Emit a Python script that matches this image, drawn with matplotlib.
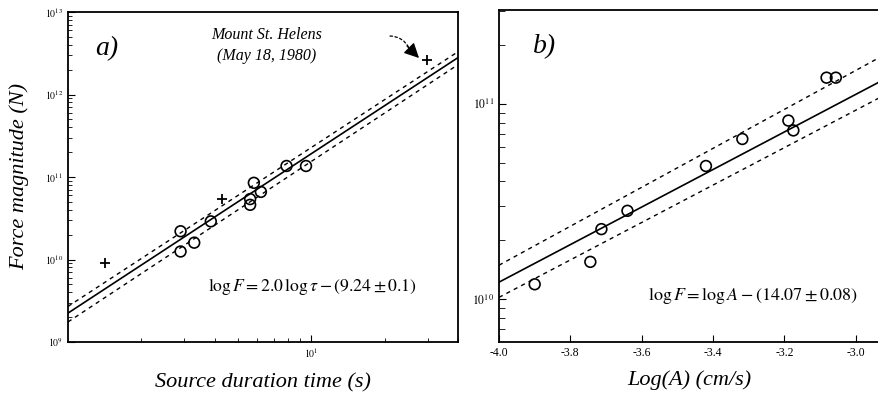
import numpy as np
import matplotlib
matplotlib.use('Agg')
import matplotlib.pyplot as plt
from matplotlib.ticker import LogLocator, NullFormatter, FixedLocator

plt.rcParams['font.family'] = ['Liberation Serif', 'DejaVu Serif']
plt.rcParams['mathtext.fontset'] = 'stix'

# Panel a: source duration vs force
a_circ_tau = [2.9, 2.9, 3.3, 3.86, 5.6, 5.6, 5.8, 6.2, 7.9, 9.5]
a_circ_F = [2.2e10, 1.25e10, 1.6e10, 2.9e10, 4.6e10, 5.4e10, 8.5e10, 6.6e10, 1.36e11, 1.36e11]
a_cross_tau = [1.42, 4.28, 29.9]
a_cross_F = [9e9, 5.4e10, 2.65e12]
a_fit_tau = [1.0, 40.0]
a_fit_F = [2.24e9, 2.8e12]
a_up_F = [2.7e9, 3.3e12]
a_lo_F = [1.75e9, 2.3e12]

# Panel b: log amplitude vs force
b_logA = [-3.90, -3.744, -3.713, -3.64, -3.42, -3.318, -3.189, -3.175, -3.082, -3.056]
b_F = [1.19e10, 1.55e10, 2.28e10, 2.83e10, 4.8e10, 6.6e10, 8.2e10, 7.3e10, 1.36e11, 1.36e11]
b_fit_A = [-4.0, -2.935]
b_fit_F = [1.22e10, 1.29e11]
b_up_F = [1.49e10, 1.72e11]
b_lo_F = [1.02e10, 1.07e11]
b_xticks = [-4.0, -3.8, -3.6, -3.4, -3.2, -3.0]
b_xlabels = ['-4.0', '-3.8', '-3.6', '-3.4', '-3.2', '-3.0']

fig = plt.figure(figsize=(8.79, 4.0), dpi=100)
ax1 = fig.add_axes([68/879, 58/400, 390/879, 330/400])
ax2 = fig.add_axes([499/879, 58/400, 380/879, 332/400])

dash = (0, (3, 3))

# ---- panel a ----
ax1.set_xscale('log')
ax1.set_yscale('log')
ax1.plot(a_fit_tau, a_fit_F, color='black', lw=1.2)
ax1.plot(a_fit_tau, a_up_F, color='black', lw=1.0, linestyle=dash)
ax1.plot(a_fit_tau, a_lo_F, color='black', lw=1.0, linestyle=dash)
ax1.scatter(a_circ_tau, a_circ_F, s=60, facecolors='none', edgecolors='black', linewidths=1.2, zorder=3)
ax1.scatter(a_cross_tau, a_cross_F, s=50, marker='+', color='black', linewidths=1.3, zorder=3)
ax1.set_xlim(1.0, 40.0)
ax1.set_ylim(1e9, 1e13)
ax1.xaxis.set_major_locator(FixedLocator([10]))
ax1.set_xticklabels([r'$10^1$'])
ax1.xaxis.set_minor_locator(LogLocator(base=10, subs=np.arange(2, 10)))
ax1.xaxis.set_minor_formatter(NullFormatter())
ax1.yaxis.set_major_locator(FixedLocator([1e9, 1e10, 1e11, 1e12, 1e13]))
ax1.set_yticklabels([r'$10^9$', r'$10^{10}$', r'$10^{11}$', r'$10^{12}$', r'$10^{13}$'])
ax1.yaxis.set_minor_locator(LogLocator(base=10, subs=np.arange(2, 10)))
ax1.yaxis.set_minor_formatter(NullFormatter())
ax1.tick_params(which='both', direction='in', labelsize=7, top=False, right=False)
ax1.tick_params(which='major', length=5)
ax1.tick_params(which='minor', length=3)
for sp in ax1.spines.values():
    sp.set_linewidth(1.3)

ax1.text(0.10, 0.89, 'a)', transform=ax1.transAxes, fontsize=20, style='italic',
         ha='center', va='center')
ax1.text(0.51, 0.93, 'Mount St. Helens', transform=ax1.transAxes, fontsize=11.5,
         style='italic', ha='center', va='center')
ax1.text(0.51, 0.866, '(May 18, 1980)', transform=ax1.transAxes, fontsize=11.5,
         style='italic', ha='center', va='center')
# dotted curve + solid head pointing at the Mount St. Helens cross
# (figure pixels, origin bottom-left)
ax1.annotate('', xy=(409, 352), xycoords='figure pixels', xytext=(390, 364),
             textcoords='figure pixels',
             arrowprops=dict(arrowstyle='-', color='black', linestyle=(0, (2, 2)), lw=0.9,
                             shrinkA=0, shrinkB=0, connectionstyle='arc3,rad=-0.3'))
ax1.annotate('', xy=(419, 342), xycoords='figure pixels', xytext=(407, 354),
             textcoords='figure pixels',
             arrowprops=dict(arrowstyle='-|>,head_length=0.9,head_width=0.45', color='black',
                             lw=0.9, shrinkA=0, shrinkB=0))
ax1.text(0.36, 0.167, r'$\log F = 2.0\,\log\tau - (9.24 \pm 0.1)$', transform=ax1.transAxes,
         fontsize=12.7, ha='left', va='center')
ax1.set_xlabel('Source duration time (s)', fontsize=16, style='italic', labelpad=9)
ax1.set_ylabel('Force magnitude (N)', fontsize=16, style='italic', labelpad=11)

# ---- panel b ----
ax2.set_yscale('log')
ax2.plot(b_fit_A, b_fit_F, color='black', lw=1.2)
ax2.plot(b_fit_A, b_up_F, color='black', lw=1.0, linestyle=dash)
ax2.plot(b_fit_A, b_lo_F, color='black', lw=1.0, linestyle=dash)
ax2.scatter(b_logA, b_F, s=60, facecolors='none', edgecolors='black', linewidths=1.2, zorder=3)
ax2.set_xlim(-4.0, -2.935)
ax2.set_ylim(10**9.78, 10**11.48)
ax2.set_xticks(b_xticks)
ax2.set_xticklabels(b_xlabels)
ax2.yaxis.set_major_locator(FixedLocator([1e10, 1e11]))
ax2.set_yticklabels([r'$10^{10}$', r'$10^{11}$'])
ax2.yaxis.set_minor_locator(LogLocator(base=10, subs=np.arange(2, 10)))
ax2.yaxis.set_minor_formatter(NullFormatter())
ax2.tick_params(which='both', direction='in', labelsize=8.5, top=False, right=False)
ax2.tick_params(which='major', length=5)
ax2.tick_params(which='minor', length=4)
ax2.spines['right'].set_visible(False)
for sp in ax2.spines.values():
    sp.set_linewidth(1.3)

ax2.text(0.12, 0.89, 'b)', transform=ax2.transAxes, fontsize=20, style='italic',
         ha='center', va='center')
ax2.text(0.393, 0.14, r'$\log F = \log A - (14.07 \pm 0.08)$', transform=ax2.transAxes,
         fontsize=13, ha='left', va='center')
ax2.set_xlabel('Log(A) (cm/s)', fontsize=16, style='italic', labelpad=8)

fig.savefig('out.png', dpi=100)
